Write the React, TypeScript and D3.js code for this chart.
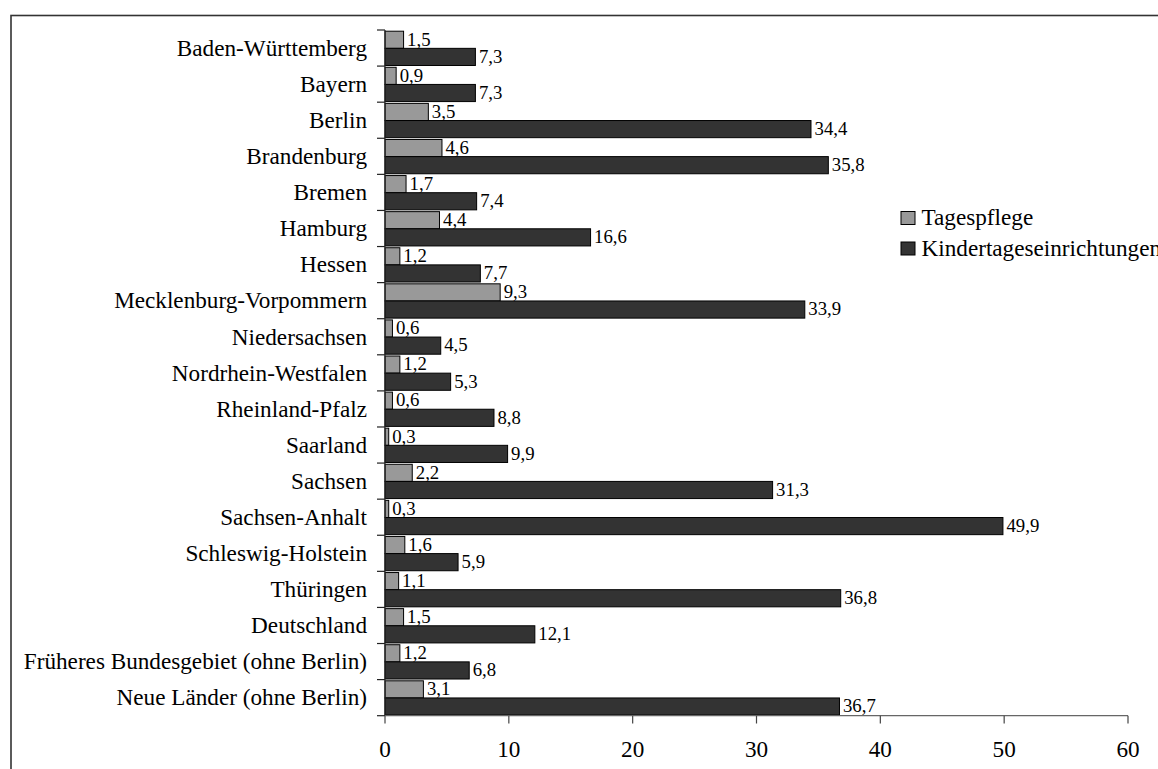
import React from "react";
import * as d3 from "d3";

const categories = [
  "Baden-Württemberg",
  "Bayern",
  "Berlin",
  "Brandenburg",
  "Bremen",
  "Hamburg",
  "Hessen",
  "Mecklenburg-Vorpommern",
  "Niedersachsen",
  "Nordrhein-Westfalen",
  "Rheinland-Pfalz",
  "Saarland",
  "Sachsen",
  "Sachsen-Anhalt",
  "Schleswig-Holstein",
  "Thüringen",
  "Deutschland",
  "Früheres Bundesgebiet (ohne Berlin)",
  "Neue Länder (ohne Berlin)",
];

const tagespflege = [1.5, 0.9, 3.5, 4.6, 1.7, 4.4, 1.2, 9.3, 0.6, 1.2, 0.6, 0.3, 2.2, 0.3, 1.6, 1.1, 1.5, 1.2, 3.1];
const kindertageseinrichtungen = [7.3, 7.3, 34.4, 35.8, 7.4, 16.6, 7.7, 33.9, 4.5, 5.3, 8.8, 9.9, 31.3, 49.9, 5.9, 36.8, 12.1, 6.8, 36.7];

const seriesNames = ["Tagespflege", "Kindertageseinrichtungen"];
const seriesValues = [tagespflege, kindertageseinrichtungen];
const seriesColors = ["#999999", "#333333"];
const xTicks = [0, 10, 20, 30, 40, 50, 60];

const FONT = '"Liberation Serif", "Times New Roman", Times, serif';

export default function App() {
  const W = 1158;
  const H = 769;
  const x = d3.scaleLinear().domain([0, 60]).range([385, 1128]);
  const y = d3.scaleBand<string>().domain(categories).range([30, 715.7]).padding(0);
  const bw = y.bandwidth();
  const inner = d3
    .scaleBand<string>()
    .domain(seriesNames)
    .range([1.2, bw - 0.6])
    .padding(0);
  const bh = inner.bandwidth();
  const fmt = (v: number) => v.toFixed(1).replace(".", ",");
  const yTickPositions = categories.map((c) => y(c) as number).concat([715.7]);
  const bigFont = 23.2;
  const smallFont = 18.8;

  return (
    <svg
      width={W}
      height={H}
      style={{ position: "absolute", left: 0, top: 0, background: "#fff", fontFamily: FONT }}
    >
      <rect x={0} y={0} width={W} height={H} fill="#fff" />
      {/* frame */}
      <rect x={11} y={15.5} width={W + 20} height={H + 20} fill="none" stroke="#333" strokeWidth={1.6} />

      {/* series */}
      {seriesNames.map((s, si) => (
        <g key={s}>
          {categories.map((c, i) => {
            const v = seriesValues[si][i];
            const by = (y(c) as number) + (inner(s) as number);
            return (
              <g key={c}>
                <rect
                  x={x(0)}
                  y={by}
                  width={x(v) - x(0)}
                  height={bh}
                  fill={seriesColors[si]}
                  stroke="#000"
                  strokeWidth={1}
                />
                <text x={x(v) + 3.5} y={by + bh / 2 + 5.8} fontSize={smallFont} fill="#000">
                  {fmt(v)}
                </text>
              </g>
            );
          })}
        </g>
      ))}

      {/* y axis */}
      <line x1={385} x2={385} y1={30} y2={715.7} stroke="#222" strokeWidth={1.2} />
      {yTickPositions.map((p, i) => (
        <line key={i} x1={377} x2={385} y1={p} y2={p} stroke="#222" strokeWidth={1.2} />
      ))}
      {categories.map((c) => (
        <text
          key={c}
          x={367}
          y={(y(c) as number) + bw / 2 + 7.8}
          textAnchor="end"
          fontSize={bigFont}
          fill="#000"
        >
          {c}
        </text>
      ))}

      {/* x axis */}
      <line x1={385} x2={x(60)} y1={715.7} y2={715.7} stroke="#666" strokeWidth={1.2} />
      {xTicks.map((t) => (
        <g key={t}>
          <line x1={x(t)} x2={x(t)} y1={715.7} y2={723.5} stroke="#444" strokeWidth={1.2} />
          <text x={x(t)} y={757.3} textAnchor="middle" fontSize={bigFont} fill="#000">
            {t}
          </text>
        </g>
      ))}

      {/* legend */}
      {seriesNames.map((s, i) => (
        <g key={s} transform={`translate(0, ${i * 30.5})`}>
          <rect x={901} y={211.5} width={14} height={13} fill={seriesColors[i]} stroke="#000" strokeWidth={1} />
          <text x={921.5} y={225} fontSize={bigFont} fill="#000">
            {s}
          </text>
        </g>
      ))}
    </svg>
  );
}
